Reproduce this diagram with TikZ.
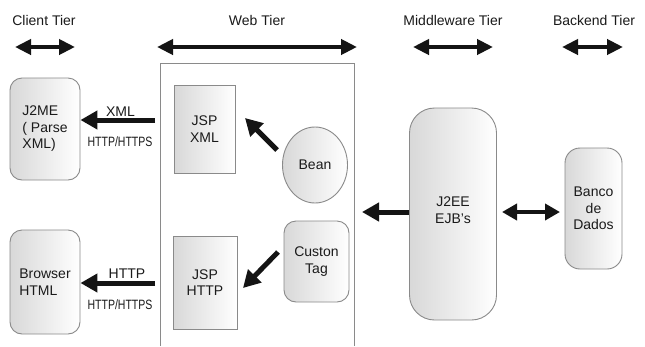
\documentclass[tikz,border=0pt]{standalone}
\usepackage{fontspec}
\setmainfont{Liberation Sans}
\usetikzlibrary{arrows.meta,shapes.geometric}
\definecolor{boxline}{HTML}{8A8A8A}
\definecolor{boxgray}{HTML}{D8D8D8}
\definecolor{txt}{HTML}{1A1A1A}
\definecolor{arr}{HTML}{141414}
\begin{document}
\begin{tikzpicture}[x=1pt,y=-1pt,
  lbl/.style={font=\fontsize{14}{16.5}\selectfont, text=txt, inner sep=0pt},
  small/.style={font=\fontsize{13.5}{15}\selectfont, text=txt, inner sep=0pt},
  box/.style={draw=boxline, line width=0.9pt, left color=boxgray, right color=white,
    inner sep=0pt, font=\fontsize{14}{16.5}\selectfont, text=txt, align=center},
  rbox/.style={box, rounded corners=#1},
  tierarrow/.style={draw=arr, line width=4.5pt, {Triangle[length=16pt,width=15pt]}-{Triangle[length=16pt,width=15pt]}},
  bigarrow/.style={draw=arr, line width=5pt, -{Triangle[length=17pt,width=18pt]}},
  bigdouble/.style={draw=arr, line width=4.5pt, {Triangle[length=15pt,width=16pt]}-{Triangle[length=15pt,width=16pt]}}
]
\useasboundingbox (0,0) rectangle (645,346);
\fill[white] (0,0) rectangle (645,346);

% tier titles
\node[lbl] (tclient) at (44,20) {Client Tier};
\node[lbl] (tweb) at (257,20) {Web Tier};
\node[lbl] (tmid) at (453,20) {Middleware Tier};
\node[lbl] (tback) at (594,20) {Backend Tier};

% tier arrows
\coordinate (ca1) at (15,47); \coordinate (ca2) at (75,47);
\coordinate (wa1) at (157,47); \coordinate (wa2) at (357,47);
\coordinate (ma1) at (413,47); \coordinate (ma2) at (493,47);
\coordinate (ba1) at (562,47); \coordinate (ba2) at (623,47);
\draw[tierarrow] (ca1) -- (ca2);
\draw[tierarrow] (wa1) -- (wa2);
\draw[tierarrow] (ma1) -- (ma2);
\draw[tierarrow] (ba1) -- (ba2);

% web tier container (open at bottom)
\coordinate (wb1) at (160,346); \coordinate (wb2) at (160,63);
\coordinate (wb3) at (354,63); \coordinate (wb4) at (354,346);
\draw[boxline, line width=0.9pt] (wb1) -- (wb2) -- (wb3) -- (wb4);

% boxes
\node[rbox=12pt, minimum width=70pt, minimum height=102pt, align=left] (j2me) at (45,129) {J2ME\\( Parse\\XML)};
\node[rbox=12pt, minimum width=70pt, minimum height=104pt, align=left] (browser) at (45,282) {Browser\\HTML};
\node[box, minimum width=61pt, minimum height=88pt] (jspxml) at (204.5,129) {JSP\\XML};
\node[box, minimum width=64pt, minimum height=93pt] (jsphttp) at (205,282.5) {JSP\\HTTP};
\node[box, ellipse, minimum width=65pt, minimum height=76pt] (bean) at (315,165) {Bean};
\node[rbox=12pt, minimum width=65pt, minimum height=81pt] (custon) at (316.5,261.5) {Custon\\Tag};
\node[rbox=25pt, minimum width=87pt, minimum height=212pt] (j2ee) at (453,214) {};
\node[lbl, align=center] (j2eet) at (453,210) {J2EE\\EJB’s};
\node[rbox=15pt, minimum width=57pt, minimum height=121pt] (banco) at (593.5,208.5) {Banco\\de\\Dados};

% client arrows
\coordinate (xs) at (155,120);
\draw[bigarrow] (xs) -- (xs -| j2me.east);
\node[lbl] (xmll) at (120.5,112) {XML};
\node[small] (hx) at (120,142) {\scalebox{0.78}[1]{HTTP/HTTPS}};
\coordinate (hs) at (155,283);
\draw[bigarrow] (hs) -- (hs -| browser.east);
\node[lbl] (httpl) at (127,274) {HTTP};
\node[small] (hh) at (120,305) {\scalebox{0.78}[1]{HTTP/HTTPS}};

% internal arrows
\coordinate (bs) at (277,150); \coordinate (bt) at (245,118);
\draw[bigarrow] (bs) -- (bt);
\coordinate (cs) at (278,252); \coordinate (ct) at (243,288);
\draw[bigarrow] (cs) -- (ct);

% middleware arrows
\coordinate (ja) at (362,212);
\draw[bigarrow] (ja -| j2ee.west) -- (ja);
\coordinate (da1) at (502,212); \coordinate (da2) at (560,212);
\draw[bigdouble] (da1) -- (da2);
\end{tikzpicture}
\end{document}
